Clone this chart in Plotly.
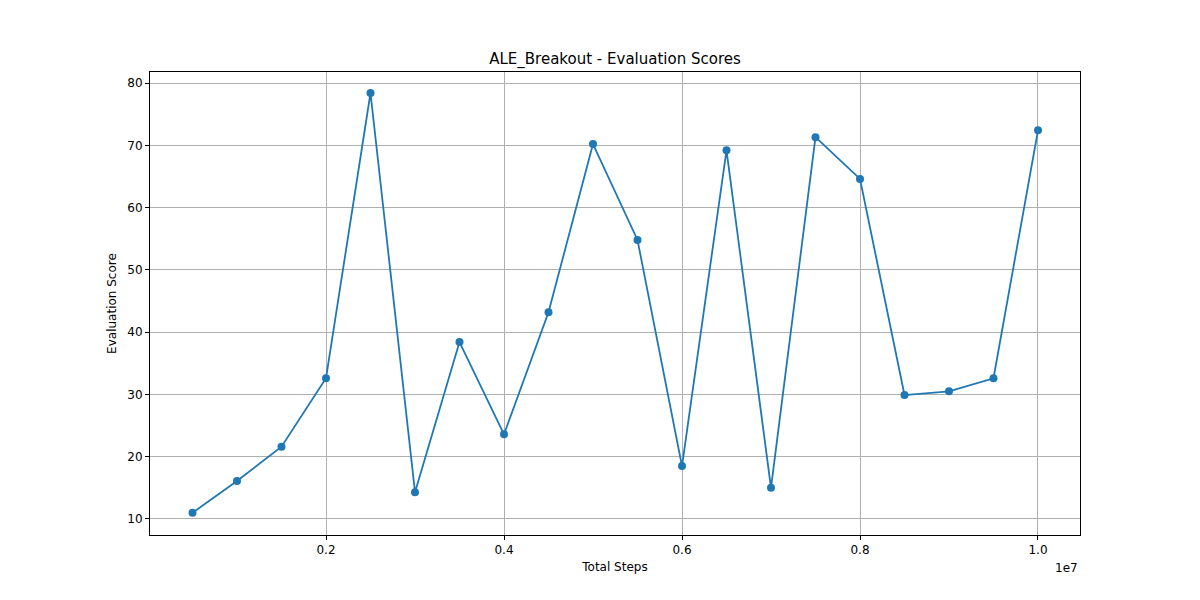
import plotly.graph_objects as go

steps = [500000*i for i in range(1, 21)]
scores = [11.0, 16.1, 21.6, 32.6, 78.4, 14.3, 38.4, 23.6, 43.2, 70.2,
          54.8, 18.5, 69.2, 15.0, 71.3, 64.6, 29.9, 30.5, 32.6, 72.4]
xtick_vals = [2e6, 4e6, 6e6, 8e6, 1e7]
xtick_text = ["0.2", "0.4", "0.6", "0.8", "1.0"]
ytick_vals = [10, 20, 30, 40, 50, 60, 70, 80]

fig = go.Figure(go.Scatter(x=steps, y=scores, mode="lines+markers",
                           line=dict(color="#1f77b4", width=1.8),
                           marker=dict(color="#1f77b4", size=8)))
fig.update_layout(
    width=1200, height=600, plot_bgcolor="white", paper_bgcolor="white",
    margin=dict(l=142, r=128, t=64, b=73),
    font=dict(family="DejaVu Sans", size=12, color="black"),
    title=dict(text="ALE_Breakout - Evaluation Scores", x=(142 + 1072) / 2 / 1200,
               xanchor="center", y=1 - 51/600, yanchor="middle", font=dict(size=15)),
    showlegend=False,
)
axis_common = dict(showline=True, linecolor="black", linewidth=1, mirror=True,
                   showgrid=True, gridcolor="#b0b0b0", gridwidth=1,
                   ticks="outside", ticklen=4, tickcolor="black", zeroline=False)
fig.update_xaxes(range=[22400, 1.0472e7], tickvals=xtick_vals, ticktext=xtick_text,
                 title=dict(text="Total Steps", standoff=6, font=dict(size=12)), **axis_common)
fig.update_yaxes(range=[7.43, 81.77], tickvals=ytick_vals,
                 title=dict(text="Evaluation Score", standoff=8, font=dict(size=12)), **axis_common)
fig.add_annotation(text="1e7", xref="paper", yref="paper", x=1, y=0, xanchor="right",
                   yanchor="top", yshift=-24, showarrow=False, font=dict(size=12))
fig.write_html("out.html")
